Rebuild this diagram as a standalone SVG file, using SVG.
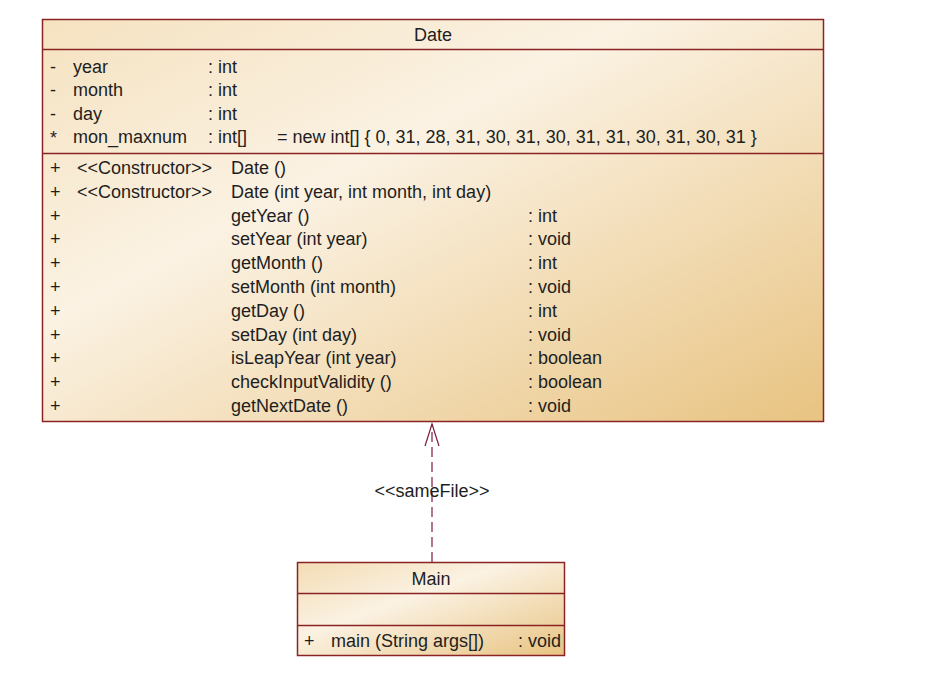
<svg xmlns="http://www.w3.org/2000/svg" width="946" height="674" viewBox="0 0 946 674">
<style>
  text { font-family: "Liberation Sans", Arial, sans-serif; font-size: 18px; fill: #1e1e1e; }
  .box { stroke: #8a2424; stroke-width: 1.5; }
  .sep { stroke: #8a2424; stroke-width: 1.3; fill: none; }
  .mid { text-anchor: middle; }
  .conn { stroke: #7d1c44; stroke-width: 1.2; fill: none; }
</style>
<defs>
  <linearGradient id="fillDate" x1="0" y1="0" x2="1" y2="1">
    <stop offset="0" stop-color="#f5e2c0"/>
    <stop offset="0.38" stop-color="#fbf2e3"/>
    <stop offset="1" stop-color="#e8c381"/>
  </linearGradient>
  <linearGradient id="fillMain" x1="0" y1="0" x2="1" y2="1">
    <stop offset="0" stop-color="#f3dcb4"/>
    <stop offset="0.4" stop-color="#fbf2e3"/>
    <stop offset="1" stop-color="#e8c381"/>
  </linearGradient>
</defs>
<rect width="946" height="674" fill="#ffffff"/>

<g id="connectors">
  <line class="conn" x1="432" y1="562" x2="432" y2="424" stroke-dasharray="10,5"/>
  <polyline class="conn" points="425,446 432,424 439,446"/>
  <text class="mid" x="432" y="497">&lt;&lt;sameFile&gt;&gt;</text>
</g>

<g id="Date">
  <rect class="box" x="42.5" y="19.5" width="781" height="402" fill="url(#fillDate)"/>
  <line class="sep" x1="42.5" y1="49.5" x2="823.5" y2="49.5"/>
  <line class="sep" x1="42.5" y1="153.5" x2="823.5" y2="153.5"/>
  <text class="mid" x="433" y="41">Date</text>
  <text x="50" y="72.5">-</text><text x="73" y="72.5">year</text><text x="208" y="72.5">: int</text>
  <text x="50" y="96">-</text><text x="73" y="96">month</text><text x="208" y="96">: int</text>
  <text x="50" y="119.5">-</text><text x="73" y="119.5">day</text><text x="208" y="119.5">: int</text>
  <text x="50" y="144">*</text><text x="73" y="143">mon_maxnum</text><text x="208" y="143">: int[]</text><text x="277" y="143">= new int[] { 0, 31, 28, 31, 30, 31, 30, 31, 31, 30, 31, 30, 31 }</text>
  <text x="50" y="174">+</text><text x="77" y="174">&lt;&lt;Constructor&gt;&gt;</text><text x="231" y="174">Date ()</text>
  <text x="50" y="197.8">+</text><text x="77" y="197.8">&lt;&lt;Constructor&gt;&gt;</text><text x="231" y="197.8">Date (int year, int month, int day)</text>
  <text x="50" y="221.6">+</text><text x="231" y="221.6">getYear ()</text><text x="528" y="221.6">: int</text>
  <text x="50" y="245.4">+</text><text x="231" y="245.4">setYear (int year)</text><text x="528" y="245.4">: void</text>
  <text x="50" y="269.2">+</text><text x="231" y="269.2">getMonth ()</text><text x="528" y="269.2">: int</text>
  <text x="50" y="293">+</text><text x="231" y="293">setMonth (int month)</text><text x="528" y="293">: void</text>
  <text x="50" y="316.8">+</text><text x="231" y="316.8">getDay ()</text><text x="528" y="316.8">: int</text>
  <text x="50" y="340.6">+</text><text x="231" y="340.6">setDay (int day)</text><text x="528" y="340.6">: void</text>
  <text x="50" y="364.4">+</text><text x="231" y="364.4">isLeapYear (int year)</text><text x="528" y="364.4">: boolean</text>
  <text x="50" y="388.2">+</text><text x="231" y="388.2">checkInputValidity ()</text><text x="528" y="388.2">: boolean</text>
  <text x="50" y="412">+</text><text x="231" y="412">getNextDate ()</text><text x="528" y="412">: void</text>
</g>

<g id="Main">
  <rect class="box" x="297.5" y="562.5" width="267" height="93" fill="url(#fillMain)"/>
  <line class="sep" x1="297.5" y1="593.5" x2="564.5" y2="593.5"/>
  <line class="sep" x1="297.5" y1="625.5" x2="564.5" y2="625.5"/>
  <text class="mid" x="431" y="584.5">Main</text>
  <text x="304" y="647">+</text><text x="331" y="647">main (String args[])</text><text x="518" y="647">: void</text>
</g>
</svg>
